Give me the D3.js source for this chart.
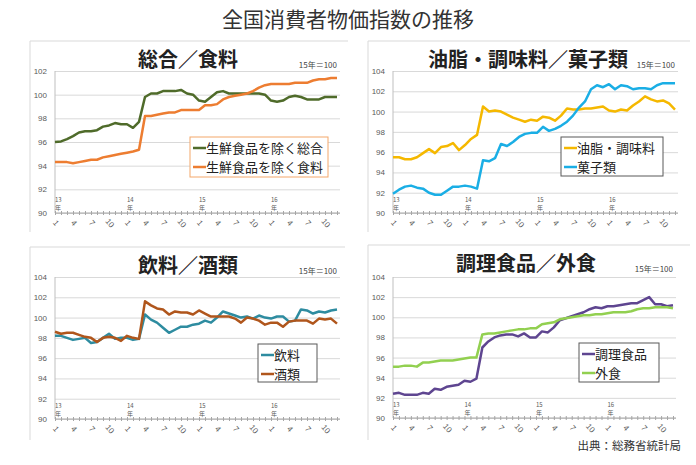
<!DOCTYPE html>
<html>
<head>
<meta charset="utf-8">
<script src="https://cdn.jsdelivr.net/npm/d3@7"></script>
<style>
body { margin: 0; background: #fff; }
text { font-family: "Noto Sans CJK JP", "Noto Sans", sans-serif; }
</style>
</head>
<body>
<svg width="696" height="465"></svg>
<script>
// categories: 2013年1月 .. 2016年12月
var years = ["13", "14", "15", "16"];
var monthNums = [1, 2, 3, 4, 5, 6, 7, 8, 9, 10, 11, 12];
var monthTicks = ["1", "4", "7", "10"];
var yTicksTop = [90, 92, 94, 96, 98, 100, 102];
var yTicks = [90, 92, 94, 96, 98, 100, 102, 104];

// 総合／食料
var sogo = [96.0, 96.05, 96.25, 96.5, 96.8, 96.9, 96.9, 97.0, 97.3, 97.4, 97.6, 97.5,
            97.5, 97.2, 97.7, 99.8, 100.1, 100.1, 100.3, 100.3, 100.3, 100.4, 100.1, 100.0,
            99.5, 99.4, 99.8, 100.2, 100.3, 100.1, 100.1, 100.1, 100.1, 100.1, 100.1, 100.0,
            99.5, 99.4, 99.5, 99.8, 99.9, 99.8, 99.6, 99.6, 99.6, 99.8, 99.8, 99.8];
var shokuryo = [94.3, 94.3, 94.3, 94.2, 94.3, 94.4, 94.5, 94.5, 94.7, 94.8, 94.9, 95.0,
                95.1, 95.2, 95.35, 98.2, 98.2, 98.3, 98.4, 98.5, 98.5, 98.7, 98.7, 98.7,
                98.7, 99.1, 99.1, 99.2, 99.6, 99.8, 99.9, 100.0, 100.1, 100.3, 100.6, 100.8,
                100.9, 100.9, 100.9, 100.9, 101.0, 101.0, 101.0, 101.2, 101.3, 101.3, 101.4, 101.4];

// 油脂・調味料／菓子類
var yushi = [95.5, 95.5, 95.3, 95.3, 95.5, 95.9, 96.3, 95.9, 96.5, 96.6, 96.9, 96.2,
             96.7, 97.3, 97.7, 100.5, 100.0, 100.1, 100.0, 99.7, 99.4, 99.2, 99.0, 99.2,
             99.1, 99.5, 99.4, 99.1, 99.6, 100.3, 100.2, 100.2, 100.3, 100.3, 100.4, 100.5,
             100.1, 100.0, 100.2, 100.1, 100.6, 101.0, 101.5, 101.2, 101.0, 101.1, 100.8, 100.2];
var kashi = [91.9, 92.3, 92.6, 92.7, 92.5, 92.4, 92.0, 91.8, 91.8, 92.2, 92.6, 92.6,
             92.7, 92.6, 92.4, 95.2, 95.1, 95.4, 96.8, 96.6, 97.0, 97.5, 97.8, 97.9,
             97.9, 98.5, 98.1, 98.3, 98.6, 99.0, 99.6, 100.4, 101.0, 102.2, 102.6, 102.4,
             102.7, 102.2, 102.6, 102.5, 102.2, 102.3, 102.3, 102.2, 102.6, 102.8, 102.8, 102.8];

// 飲料／酒類
var inryo = [98.2, 98.2, 98.0, 97.8, 97.9, 98.0, 97.5, 97.6, 98.0, 98.4, 97.9, 98.0,
             98.0, 97.8, 97.9, 100.3, 99.8, 99.5, 99.0, 98.5, 98.8, 99.1, 99.1, 99.3,
             99.4, 99.7, 99.5, 100.0, 100.6, 100.4, 100.2, 100.0, 100.1, 99.9, 100.2, 100.0,
             99.9, 100.1, 100.1, 99.6, 99.7, 100.8, 100.7, 100.4, 100.6, 100.5, 100.7, 100.8];
var sake = [98.6, 98.4, 98.5, 98.5, 98.3, 98.1, 98.0, 97.6, 98.0, 98.1, 98.0, 97.7,
            98.2, 98.0, 97.9, 101.6, 101.2, 100.9, 100.8, 100.3, 100.6, 100.5, 100.5, 100.3,
            100.7, 100.4, 100.1, 100.1, 100.1, 100.1, 99.9, 99.5, 100.0, 99.9, 99.7, 99.3,
            99.5, 99.5, 99.1, 99.6, 99.7, 99.7, 99.7, 99.4, 99.9, 99.8, 99.9, 99.4];

// 調理食品／外食
var chori = [92.4, 92.5, 92.3, 92.3, 92.3, 92.5, 92.4, 92.9, 92.8, 93.1, 93.2, 93.3,
             93.7, 93.6, 93.9, 97.0, 97.6, 98.0, 98.2, 98.3, 98.3, 98.1, 98.4, 98.0,
             98.0, 98.6, 98.5, 99.0, 99.7, 99.9, 100.1, 100.3, 100.5, 100.8, 101.0, 100.9,
             101.1, 101.1, 101.2, 101.3, 101.4, 101.4, 101.7, 102.0, 101.3, 101.3, 101.1, 101.2];
var gaishoku = [95.1, 95.1, 95.2, 95.2, 95.1, 95.5, 95.5, 95.6, 95.7, 95.7, 95.7, 95.8,
                95.9, 96.0, 96.0, 98.3, 98.4, 98.4, 98.5, 98.6, 98.7, 98.8, 98.8, 98.9,
                98.9, 99.3, 99.4, 99.5, 99.8, 99.9, 100.0, 100.1, 100.2, 100.2, 100.3, 100.3,
                100.4, 100.5, 100.5, 100.5, 100.6, 100.8, 100.9, 100.9, 101.0, 101.0, 101.0, 100.9];

var categories = [];
years.forEach(function(y) {
    monthNums.forEach(function(m) { categories.push(y + "年" + m + "月"); });
});

var panels = [
    {left: 30, top: 41, bottom: 232, edge: 348, ax: 55, right: 337, yTop: 71, yBot: 213,
     domain: [90, 102], ticks: yTicksTop, title: "総合／食料", titleX: 188,
     series: [{name: "生鮮食品を除く総合", values: sogo, color: "#4f6b2a"},
              {name: "生鮮食品を除く食料", values: shokuryo, color: "#ed7d31"}],
     legend: {x: 190, y: 137, w: 138, h: 40, stroke: "#f4a76a"}},
    {left: 368, top: 41, bottom: 232, edge: 690, ax: 393, right: 675, yTop: 71, yBot: 213,
     domain: [90, 104], ticks: yTicks, title: "油脂・調味料／菓子類", titleX: 528,
     series: [{name: "油脂・調味料", values: yushi, color: "#f5b800"},
              {name: "菓子類", values: kashi, color: "#1aaee5"}],
     legend: {x: 561, y: 137, w: 102, h: 39, stroke: "#595959"}},
    {left: 30, top: 247, bottom: 440, edge: 345, ax: 55, right: 337, yTop: 277, yBot: 419,
     domain: [90, 104], ticks: yTicks, title: "飲料／酒類", titleX: 188,
     series: [{name: "飲料", values: inryo, color: "#2e8ca0"},
              {name: "酒類", values: sake, color: "#b0561c"}],
     legend: {x: 258, y: 344, w: 59, h: 38, stroke: "#595959"}},
    {left: 368, top: 245, bottom: 440, edge: 690, ax: 393, right: 673, yTop: 277, yBot: 418,
     domain: [90, 104], ticks: yTicks, title: "調理食品／外食", titleX: 526,
     series: [{name: "調理食品", values: chori, color: "#5e4590"},
              {name: "外食", values: gaishoku, color: "#92d050"}],
     legend: {x: 579, y: 343, w: 80, h: 39, stroke: "#595959"}}
];

var svg = d3.select("svg");

svg.append("text")
    .attr("x", 348).attr("y", 27)
    .attr("text-anchor", "middle")
    .attr("font-size", 21)
    .attr("fill", "#333")
    .text("全国消費者物価指数の推移");

panels.forEach(function(p) {
    var g = svg.append("g");

    // panel frame (left and top edges only)
    g.append("path")
        .attr("d", "M" + p.left + "," + p.bottom + "V" + p.top + "H" + p.edge)
        .attr("fill", "none")
        .attr("stroke", "#d9d9d9");

    g.append("text")
        .attr("x", p.titleX).attr("y", p.top + 26)
        .attr("text-anchor", "middle")
        .attr("font-size", 20)
        .attr("font-weight", "bold")
        .attr("fill", "#222")
        .text(p.title);

    g.append("text")
        .attr("x", p.right).attr("y", p.top + 27)
        .attr("text-anchor", "end")
        .attr("font-size", 8)
        .attr("fill", "#444")
        .text("15年＝100");

    var x = d3.scalePoint().domain(categories).range([p.ax, p.right]);
    var y = d3.scaleLinear().domain(p.domain).range([p.yBot, p.yTop]);

    // gridlines + y labels
    var ya = g.append("g")
        .attr("transform", "translate(" + p.ax + ",0)")
        .call(d3.axisLeft(y).tickValues(p.ticks).tickSize(-(p.right - p.ax + 3)).tickPadding(8));
    ya.select(".domain").remove();
    ya.selectAll(".tick line").attr("stroke", "#d9d9d9");
    ya.selectAll(".tick text").attr("font-size", 8).attr("fill", "#595959")
        .style("font-family", "'Liberation Sans', sans-serif");

    g.append("line")
        .attr("x1", p.ax).attr("x2", p.ax)
        .attr("y1", p.yTop).attr("y2", p.yBot)
        .attr("stroke", "#bfbfbf");

    // category axis with monthly tick marks
    var xa = g.append("g")
        .attr("transform", "translate(0," + p.yBot + ")")
        .call(d3.axisBottom(x).tickSize(2));
    xa.selectAll(".tick text").remove();
    xa.select(".domain").attr("stroke", "#a6a6a6").attr("d", "M" + p.ax + ",0H" + (p.right + 3));
    xa.selectAll(".tick line").attr("stroke", "#a6a6a6").attr("y1", -2).attr("y2", 2);

    categories.forEach(function(c, i) {
        var m = monthNums[i % 12];
        var px = x(c);
        if (monthTicks.indexOf(String(m)) >= 0) {
            g.append("text")
                .attr("transform", "translate(" + (px + 1) + "," + (p.yBot + 10) + ") rotate(50)")
                .attr("text-anchor", "middle")
                .attr("dy", "0.35em")
                .attr("font-size", 8)
                .attr("fill", "#595959")
                .style("font-family", "'Liberation Sans', sans-serif")
                .text(m);
        }
        if (m === 1) {
            // year label with "年" underneath
            g.append("text")
                .attr("x", px).attr("y", p.yBot - 11)
                .attr("font-size", 6).attr("fill", "#595959")
                .text(years[Math.floor(i / 12)]);
            g.append("text")
                .attr("x", px).attr("y", p.yBot - 3)
                .attr("font-size", 6).attr("fill", "#595959")
                .text("年");
        }
    });

    var line = d3.line()
        .x(function(d, i) { return x(categories[i]); })
        .y(function(d) { return y(d); });

    p.series.forEach(function(s) {
        g.append("path")
            .datum(s.values)
            .attr("d", line)
            .attr("fill", "none")
            .attr("stroke", s.color)
            .attr("stroke-width", 2.5)
            .attr("stroke-linejoin", "round");
    });

    // legend
    var L = p.legend;
    g.append("rect")
        .attr("x", L.x).attr("y", L.y)
        .attr("width", L.w).attr("height", L.h)
        .attr("fill", "#fff")
        .attr("stroke", L.stroke);
    p.series.forEach(function(s, k) {
        var cy = L.y + 11 + k * 19;
        g.append("line")
            .attr("x1", L.x + 3).attr("x2", L.x + 16)
            .attr("y1", cy).attr("y2", cy)
            .attr("stroke", s.color).attr("stroke-width", 2.5);
        g.append("text")
            .attr("x", L.x + 16).attr("y", cy)
            .attr("dy", "0.36em")
            .attr("font-size", 13)
            .attr("fill", "#222")
            .text(s.name);
    });
});

svg.append("text")
    .attr("x", 681).attr("y", 450)
    .attr("text-anchor", "end")
    .attr("font-size", 11.5)
    .attr("fill", "#333")
    .text("出典：総務省統計局");
</script>
</body>
</html>
